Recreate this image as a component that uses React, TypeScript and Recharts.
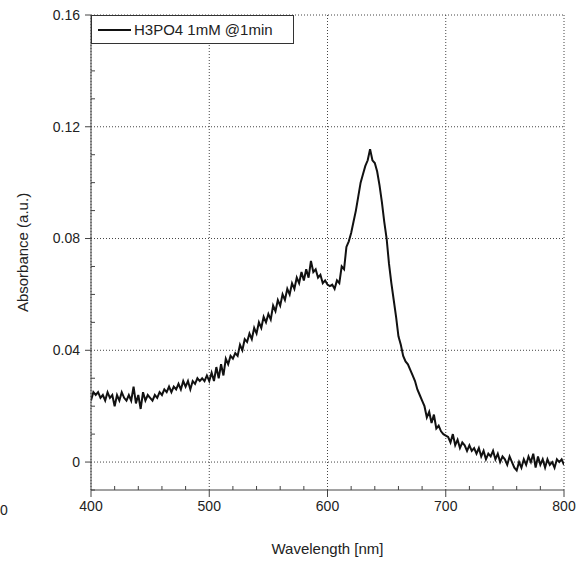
import React from "react";
import {
  CartesianGrid,
  Legend,
  Line,
  LineChart,
  XAxis,
  YAxis,
} from "recharts";

// wavelength sampling of the scan (nm)
const START_NM = 400;
const STEP_NM = 2;

// absorbance, 400..800 nm every 2 nm
const abs400to500 = [
  0.022, 0.025, 0.024, 0.025, 0.023, 0.024, 0.022, 0.025, 0.023, 0.024,
  0.02, 0.024, 0.022, 0.025, 0.023, 0.022, 0.024, 0.022, 0.027, 0.021,
  0.024, 0.019, 0.025, 0.022, 0.024, 0.023, 0.022, 0.024, 0.023, 0.025,
  0.024, 0.026, 0.025, 0.027, 0.025, 0.027, 0.026, 0.028, 0.026, 0.029,
  0.027, 0.029, 0.026, 0.029, 0.028, 0.03, 0.029, 0.03, 0.029, 0.031,
  0.029,
];
const abs502to600 = [
  0.032, 0.029, 0.034, 0.03, 0.035, 0.031, 0.037, 0.035, 0.038, 0.037,
  0.039, 0.038, 0.042, 0.04, 0.044, 0.043, 0.046, 0.044, 0.048, 0.046,
  0.05, 0.048, 0.052, 0.05, 0.053, 0.051, 0.056, 0.054, 0.058, 0.056,
  0.06, 0.058, 0.062, 0.06, 0.064, 0.062, 0.066, 0.064, 0.068, 0.065,
  0.069, 0.066, 0.072, 0.068, 0.069, 0.066, 0.067, 0.064, 0.065, 0.0635,
];
const abs602to700 = [
  0.063, 0.0635, 0.062, 0.065, 0.064, 0.07, 0.069, 0.077, 0.079, 0.082,
  0.086, 0.09, 0.095, 0.1, 0.103, 0.106, 0.108, 0.112, 0.108, 0.107,
  0.104, 0.099, 0.093, 0.086, 0.08, 0.071, 0.064, 0.058, 0.052, 0.045,
  0.042, 0.038, 0.036, 0.035, 0.033, 0.031, 0.029, 0.026, 0.024, 0.022,
  0.02, 0.016, 0.018, 0.014, 0.017, 0.012, 0.013, 0.011, 0.01, 0.0095,
];
const abs702to800 = [
  0.009, 0.007, 0.01, 0.006, 0.008, 0.005, 0.007, 0.006, 0.004, 0.006,
  0.004, 0.005, 0.003, 0.005, 0.002, 0.004, 0.001, 0.003, 0.002, 0.004,
  0.001, 0.003, 0.0, 0.002, 0.001, -0.001, 0.002, 0.0, -0.002, -0.003,
  0.0, -0.002, 0.001, -0.001, 0.002, 0.0, 0.003, -0.002, 0.002, -0.001,
  0.001, -0.002, 0.001, -0.001, 0.0, -0.002, 0.001, 0.0, 0.001, -0.001,
];

const xMajorTicks = [400, 500, 600, 700, 800];
const xMinorTicks = [
  420, 440, 460, 480, 520, 540, 560, 580, 620, 640, 660, 680, 720, 740, 760, 780,
];
const yMajorTicks = [0, 0.04, 0.08, 0.12, 0.16];
const yMinorTicks = [
  -0.01, 0.01, 0.02, 0.03, 0.05, 0.06, 0.07, 0.09, 0.1, 0.11, 0.13, 0.14, 0.15,
];

const seriesName = "H3PO4 1mM @1min";

const absorbance = [...abs400to500, ...abs502to600, ...abs602to700, ...abs702to800];
const data = absorbance.map((a, i) => ({ nm: START_NM + i * STEP_NM, abs: a }));

const font = "'Liberation Sans', Arial, sans-serif";
const AXIS = "#444";
const TEXT = "#222";
const MAJOR = 7;
const MINOR = 4;
const GAP = 4;

// bottom ticks: majors point out with a label, minors point into the plot
const XTick = (props: any) => {
  const { x, y, payload } = props;
  const axisY = y - MAJOR - GAP;
  const major = xMajorTicks.includes(payload.value);
  if (!major) {
    return <line x1={x} x2={x} y1={axisY} y2={axisY - MINOR} stroke={AXIS} />;
  }
  return (
    <g>
      <line x1={x} x2={x} y1={axisY} y2={axisY + MAJOR} stroke={AXIS} />
      <text x={x} y={y} dy="0.71em" textAnchor="middle" fontSize={14} fill={TEXT} fontFamily={font}>
        {payload.value}
      </text>
    </g>
  );
};

const YTick = (props: any) => {
  const { x, y, payload } = props;
  const axisX = x + MAJOR + GAP;
  const major = yMajorTicks.includes(payload.value);
  if (!major) {
    return <line x1={axisX} x2={axisX + MINOR} y1={y} y2={y} stroke={AXIS} />;
  }
  return (
    <g>
      <line x1={axisX - MAJOR + 1} x2={axisX} y1={y} y2={y} stroke={AXIS} />
      <text x={x} y={y} dy="0.355em" textAnchor="end" fontSize={14} fill={TEXT} fontFamily={font}>
        {payload.value}
      </text>
    </g>
  );
};

const LegendBox = (props: any) => {
  const item = props.payload && props.payload[0];
  return (
    <div
      style={{
        border: "1px solid #333",
        background: "#fff",
        width: 203,
        height: 29,
        boxSizing: "border-box",
        display: "flex",
        alignItems: "center",
        fontFamily: font,
        fontSize: 15,
        color: TEXT,
      }}
    >
      <svg width={40} height={10}>
        <line x1={6} y1={5} x2={39} y2={5} stroke="#111" strokeWidth={2} />
      </svg>
      <span style={{ marginLeft: 2 }}>{item ? item.value : seriesName}</span>
    </div>
  );
};

export default function App() {
  return (
    <div style={{ position: "absolute", left: 0, top: 0, width: 583, height: 561, background: "#fff" }}>
      <div
        style={{
          position: "absolute",
          left: 0,
          top: 502,
          fontFamily: font,
          fontSize: 14,
          color: TEXT,
        }}
      >
        0
      </div>
      <LineChart
        width={583}
        height={561}
        data={data}
        margin={{ top: 15, right: 19, bottom: 0, left: 0 }}
      >
        <CartesianGrid
          stroke={AXIS}
          strokeDasharray="1 2"
          horizontalValues={yMajorTicks}
          verticalValues={xMajorTicks}
        />
        <XAxis
          dataKey="nm"
          type="number"
          domain={[400, 800]}
          ticks={[...xMajorTicks, ...xMinorTicks].sort((a, b) => a - b)}
          interval={0}
          height={71}
          tickSize={MAJOR}
          tickMargin={GAP}
          tickLine={false}
          stroke={AXIS}
          tick={<XTick />}
          allowDataOverflow
          label={{
            value: "Wavelength [nm]",
            position: "insideBottom",
            offset: 7,
            style: { fontSize: 15, fill: TEXT, fontFamily: font },
          }}
        />
        <YAxis
          type="number"
          domain={[-0.01, 0.16]}
          ticks={[...yMajorTicks, ...yMinorTicks].sort((a, b) => a - b)}
          interval={0}
          width={91}
          tickSize={MAJOR}
          tickMargin={GAP}
          tickLine={false}
          stroke={AXIS}
          tick={<YTick />}
          allowDataOverflow
          label={{
            value: "Absorbance (a.u.)",
            angle: -90,
            position: "center",
            dx: -23,
            style: { fontSize: 15, fill: TEXT, fontFamily: font, textAnchor: "middle" },
          }}
        />
        <Legend
          layout="vertical"
          align="center"
          verticalAlign="middle"
          content={LegendBox}
          wrapperStyle={{ left: 91, top: 15, width: "auto", height: "auto" }}
        />
        <Line
          type="linear"
          dataKey="abs"
          name={seriesName}
          stroke="#111"
          strokeWidth={2}
          dot={false}
          isAnimationActive={false}
        />
      </LineChart>
    </div>
  );
}
